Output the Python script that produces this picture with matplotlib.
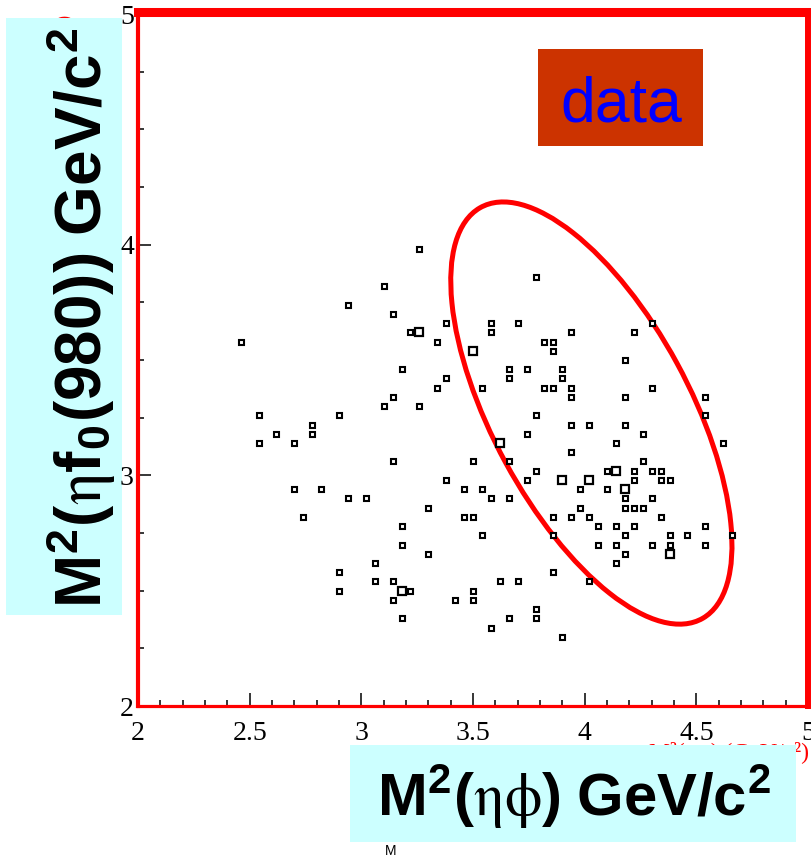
import matplotlib
matplotlib.use('Agg')
import matplotlib.pyplot as plt
from matplotlib.patches import Ellipse, Rectangle
from matplotlib.ticker import MultipleLocator, FixedLocator, FixedFormatter

plt.rcParams['font.family'] = 'Liberation Serif'
plt.rcParams['mathtext.fontset'] = 'custom'
plt.rcParams['mathtext.rm'] = 'Liberation Sans:bold'
plt.rcParams['mathtext.bf'] = 'Liberation Sans:bold'
plt.rcParams['mathtext.it'] = 'STIXGeneral'

# bins holding one event: (M2(eta phi), M2(eta f0))
single_bins = [
    (3.26, 3.98), (3.10, 3.82), (2.94, 3.74), (3.14, 3.70), (3.22, 3.62), (3.38, 3.66),
    (3.34, 3.58), (2.46, 3.58), (3.18, 3.46), (3.38, 3.42), (3.34, 3.38), (3.14, 3.34),
    (3.10, 3.30), (3.26, 3.30), (2.54, 3.26), (2.90, 3.26), (2.78, 3.22),
    (3.78, 3.86), (3.58, 3.66), (3.70, 3.66), (3.58, 3.62), (3.94, 3.62), (4.22, 3.62),
    (4.30, 3.66), (3.82, 3.58), (3.86, 3.58), (3.86, 3.54), (4.18, 3.50), (3.66, 3.46),
    (3.74, 3.46), (3.90, 3.46), (3.66, 3.42), (3.90, 3.42), (3.54, 3.38), (3.82, 3.38),
    (3.86, 3.38), (3.94, 3.38), (4.30, 3.38), (3.94, 3.34), (4.18, 3.34), (4.54, 3.34),
    (3.78, 3.26), (4.54, 3.26), (3.94, 3.22), (4.02, 3.22), (4.18, 3.22), (3.74, 3.18),
    (4.26, 3.18), (4.14, 3.14), (4.62, 3.14),
    (2.62, 3.18), (2.78, 3.18), (2.54, 3.14), (2.70, 3.14), (3.14, 3.06), (3.50, 3.06),
    (3.38, 2.98), (3.46, 2.94), (3.54, 2.94), (2.70, 2.94), (2.82, 2.94), (2.94, 2.90),
    (3.02, 2.90), (3.30, 2.86), (2.74, 2.82), (3.46, 2.82), (3.50, 2.82), (3.18, 2.78),
    (3.54, 2.74), (3.18, 2.70), (3.30, 2.66), (3.06, 2.62), (2.90, 2.58), (3.06, 2.54),
    (3.14, 2.54), (2.90, 2.50), (3.22, 2.50), (3.14, 2.46), (3.42, 2.46), (3.50, 2.46),
    (3.50, 2.50), (3.18, 2.38),
    (3.94, 3.10), (3.66, 3.06), (4.26, 3.06), (3.78, 3.02), (4.10, 3.02), (4.22, 3.02),
    (4.30, 3.02), (4.34, 3.02), (3.74, 2.98), (4.22, 2.98), (4.34, 2.98), (4.38, 2.98),
    (3.98, 2.94), (4.10, 2.94), (3.58, 2.90), (3.66, 2.90), (4.18, 2.90), (4.30, 2.90),
    (3.98, 2.86), (4.18, 2.86), (4.22, 2.86), (4.26, 2.86), (3.86, 2.82), (3.94, 2.82),
    (4.02, 2.82), (4.34, 2.82), (4.06, 2.78), (4.14, 2.78), (4.22, 2.78), (4.54, 2.78),
    (3.86, 2.74), (4.18, 2.74), (4.38, 2.74), (4.46, 2.74), (4.66, 2.74), (4.06, 2.70),
    (4.14, 2.70), (4.30, 2.70), (4.38, 2.70), (4.54, 2.70), (4.18, 2.66), (4.14, 2.62),
    (3.86, 2.58), (3.62, 2.54), (3.70, 2.54), (4.02, 2.54), (3.78, 2.42), (3.66, 2.38),
    (3.78, 2.38), (3.58, 2.34), (3.90, 2.30),
]

# bins holding two events (drawn as bigger boxes)
double_bins = [
    (3.26, 3.62), (3.50, 3.54), (3.62, 3.14), (3.18, 2.50), (4.14, 3.02),
    (3.90, 2.98), (4.02, 2.98), (4.18, 2.94), (4.38, 2.66),
]

# signal region cut
ell_center = (4.03, 3.27)
ell_width = 2.04
ell_height = 0.88
ell_angle = 119.3

x_ticks = [2, 2.5, 3, 3.5, 4, 4.5, 5]
x_ticklabels = ['2', '2.5', '3', '3.5', '4', '4.5', '5']
y_ticks = [2, 3, 4, 5]
y_ticklabels = ['2', '3', '4', '5']

W, H = 812, 859


def fx(px):
    return px / W


def fy(py):
    return 1 - py / H


fig = plt.figure(figsize=(W / 100, H / 100), dpi=100)
ax = fig.add_axes([fx(138), fy(706), 670 / W, 692 / H])
ax.set_zorder(1.5)
ax.patch.set_visible(False)

xs, ys = zip(*single_bins)
ax.plot(xs, ys, 's', ms=3.6, mfc='white', mec='black', mew=1.5, ls='none')
xd, yd = zip(*double_bins)
ax.plot(xd, yd, 's', ms=5.6, mfc='white', mec='black', mew=1.6, ls='none')

ax.add_patch(Ellipse(ell_center, ell_width, ell_height, angle=ell_angle,
                     fill=False, ec='#ff0000', lw=3.6))

ax.set_xlim(2, 5)
ax.set_ylim(2, 5)
ax.xaxis.set_major_locator(FixedLocator(x_ticks))
ax.xaxis.set_major_formatter(FixedFormatter(x_ticklabels))
ax.yaxis.set_major_locator(FixedLocator(y_ticks))
ax.yaxis.set_major_formatter(FixedFormatter(y_ticklabels))
ax.xaxis.set_minor_locator(MultipleLocator(0.1))
ax.yaxis.set_minor_locator(MultipleLocator(0.25))
ax.tick_params(which='both', direction='in', color='black', width=1.1,
               top=False, right=False, labelsize=20)
ax.tick_params(which='major', length=9.4)
ax.tick_params(which='minor', length=4.6)
ax.tick_params(axis='x', pad=11)
ax.tick_params(axis='y', pad=3)

for side, lw in [('left', 3.0), ('bottom', 2.3), ('top', 6.5), ('right', 4.3)]:
    ax.spines[side].set_color('#ff0000')
    ax.spines[side].set_linewidth(lw)
ax.spines['top'].set_position(('outward', 1.8))

# "data" tag
fig.patches.append(Rectangle((fx(538), fy(146)), 165 / W, 97 / H,
                             transform=fig.transFigure, fc='#cc3300', ec='none', zorder=1))
fig.text(fx(621), fy(121), 'data', color='#0000ff', fontsize=45,
         family='Liberation Sans', ha='center', va='baseline', zorder=2)

# red axis titles underneath the label panels
fig.text(fx(809), fy(742), 'M²(ηφ) (GeV/c²)', color='#ff0000', fontsize=17,
         family='Liberation Serif', ha='right', va='top', zorder=0.5)
fig.text(fx(66), fy(14), 'M²(ηf₀) (GeV/c²)', color='#ff0000', fontsize=15,
         family='Liberation Sans', rotation=90, ha='center', va='top', zorder=0.5)

# axis label panels
fig.patches.append(Rectangle((fx(350), fy(842)), 446 / W, 97 / H,
                             transform=fig.transFigure, fc='#ccffff', ec='none', zorder=1))
fig.patches.append(Rectangle((fx(6), fy(615)), 116 / W, 597 / H,
                             transform=fig.transFigure, fc='#ccffff', ec='none', zorder=1))
fig.text(fx(574), fy(815), r'$\mathrm{M}^{2}(\eta\phi)\ \mathrm{GeV/c}^{2}$',
         fontsize=43, ha='center', va='baseline', zorder=2)
fig.text(fx(102), fy(318), r'$\mathrm{M}^{2}(\eta\mathrm{f}_{0}(980))\ \mathrm{GeV/c}^{2}$',
         fontsize=46, rotation=90, rotation_mode='anchor', ha='center', va='baseline', zorder=2)
fig.text(fx(391), fy(858), 'M', fontsize=10, family='Liberation Sans',
         ha='center', va='bottom')

fig.savefig('out.png', dpi=100)
